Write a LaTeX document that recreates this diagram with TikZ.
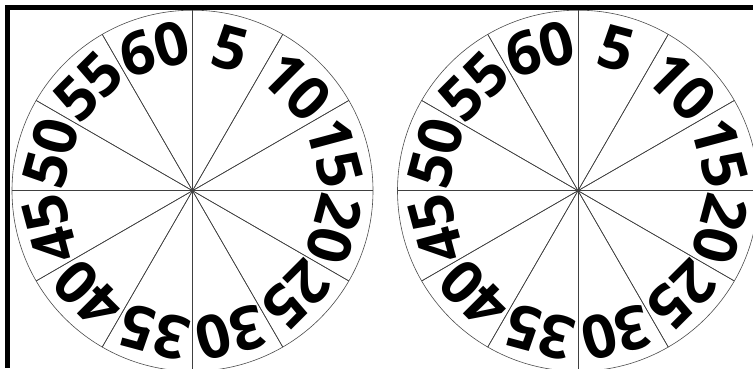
\documentclass[tikz,border=0pt]{standalone}
\usepackage{fontspec}
\setmainfont{Open Sans}
\usetikzlibrary{calc}
\begin{document}
\begin{tikzpicture}[x=1pt,y=-1pt,
  spoke/.style={draw=black!75,line width=0.6pt},
  rim/.style={draw=black!70,line width=0.6pt},
  num/.style={font=\fontsize{60}{60}\selectfont\bfseries,inner sep=0pt},
  frame/.style={line width=5pt,black}]
\useasboundingbox (0,0) rectangle (753,368);
\begin{scope}
\clip (0,0) rectangle (753,368);
\foreach \cx/\nm in {192.5/L,578/R}{
  \coordinate (c\nm) at (\cx,190.7);
  \draw[rim] (c\nm) circle[radius=180.5];
  \foreach \k in {0,...,11}{
    \draw[spoke] (c\nm) -- ++({90-30*\k}:-180.5) coordinate (s\nm\k);
    \draw[spoke] (c\nm) -- ++({90-30*\k}:180.5);
  }
  \foreach \k in {1,...,12}{
    \pgfmathtruncatemacro{\val}{5*\k}
    \node[num,rotate={-30*\k+15}] (n\nm\k) at ($(c\nm)+({cos(105-30*\k)*147},{-sin(105-30*\k)*147})$) {\val};
  }
}
\end{scope}
\draw[frame] (5,7.5) -- (753,7.5);
\draw[frame] (7.5,5) -- (7.5,368);
\end{tikzpicture}
\end{document}
